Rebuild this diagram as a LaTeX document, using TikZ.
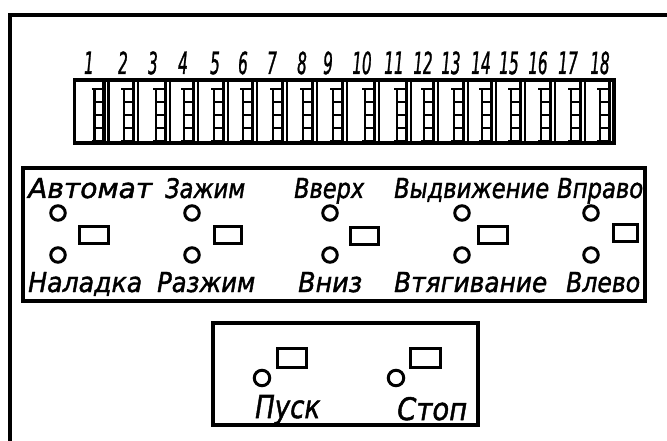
\documentclass[tikz,border=0pt]{standalone}
\usepackage{fontspec}
\setmainfont{DejaVu Sans}
\newfontfamily\gost{DejaVu Sans Oblique}[RawFeature={embolden=1.6}]
\newcommand\lab[3]{\resizebox{#1pt}{#2pt}{\gost #3}}
\newcommand\dig[1]{\scalebox{0.5}[1]{\resizebox{!}{22.5pt}{\gost #1}}}
\begin{document}
\begin{tikzpicture}[x=1pt,y=-1pt,
  lbl/.style={inner sep=0pt, anchor=base west},
  num/.style={inner sep=0pt, anchor=base},
  lamp/.style={circle, draw, line width=3pt, minimum size=14.5pt, inner sep=0pt},
  biglamp/.style={lamp, minimum size=15.5pt},
  btn/.style={rectangle, draw, line width=3pt, inner sep=0pt},
  panel/.style={draw, line width=3.4pt},
  frame/.style={draw, line width=4pt},
  divline/.style={line width=2.2pt},
  rung/.style={line width=2.2pt},
  rail/.style={line width=3.4pt}]
\useasboundingbox (0,0) rectangle (667,441);
\clip (0,0) rectangle (667,441);
\fill[white] (0,0) rectangle (667,441);
% outer frame
\coordinate (fb) at (9.5,460);
\coordinate (fc) at (9.5,15);
\coordinate (fr) at (690,15);
\draw[frame] (fb) -- (fc) -- (fr);
% terminal block
\draw[panel] (74.5,80) rectangle (614,143);
\foreach \L/\R/\xn [count=\i] in {74.5/108.5/89,108.5/138/123,138/170/153,170/198/183,198/228/215,228/257/243,257/287/272,287/317/302,317/347/328,347/379/362,379/411/394,411/438/423,438/468/451,468/496/481,496/525/509,525/555/538,555/585/568,585/614/600}{
  \ifnum\i>1 \draw[divline] (\L,80) -- (\L,143); \fi
  \pgfmathsetmacro\xr{\R-4.5}
  \pgfmathsetmacro\xl{\R-14}
  \pgfmathsetmacro\xt{\R-17}
  \draw[rail] (\xr,80) -- (\xr,143);
  \draw[rung] (\xl,89) -- (\xl,141);
  \draw[rung] (\xt,89) -- (\xr,89);
  \draw[rung] (\xt,141) -- (\xr,141);
  \foreach \y in {102,115,128}{\draw[rung] (\xl,\y) -- (\xr,\y);}
  \node[num] (n\i) at (\xn,74) {\dig{\i}};
}
% middle panel
\draw[panel] (23,168) rectangle (645,301);
\node[lbl] (t1) at (28,198) {\lab{124}{20}{Автомат}};
\node[lbl] (t2) at (165,198) {\lab{80}{20}{Зажим}};
\node[lbl] (t3) at (294,198) {\lab{70}{20}{Вверх}};
\node[lbl] (t4) at (394,198) {\lab{155}{20}{Выдвижение}};
\node[lbl] (t5) at (557,198) {\lab{86}{20}{Вправо}};
\node[lbl] (b1) at (28,292) {\lab{114}{20}{Наладка}};
\node[lbl] (b2) at (157,292) {\lab{98}{20}{Разжим}};
\node[lbl] (b3) at (298,292) {\lab{64}{20}{Вниз}};
\node[lbl] (b4) at (394,292) {\lab{153}{20}{Втягивание}};
\node[lbl] (b5) at (566,292) {\lab{74}{20}{Влево}};
\foreach \x [count=\i] in {58,192,330,462,591}{
  \node[lamp] (u\i) at (\x,213) {};
  \node[lamp] (d\i) at (\x,255) {};
}
\node[btn, minimum width=29pt, minimum height=17pt] (r1) at (94,235) {};
\node[btn, minimum width=27pt, minimum height=17pt] (r2) at (228,235) {};
\node[btn, minimum width=28pt, minimum height=17pt] (r3) at (364,236) {};
\node[btn, minimum width=29pt, minimum height=17pt] (r4) at (493,235) {};
\node[btn, minimum width=24pt, minimum height=17pt] (r5) at (625.5,233) {};
% bottom panel
\draw[panel] (213,323) rectangle (478,425);
\node[biglamp] (c1) at (262,378) {};
\node[biglamp] (c2) at (396,378) {};
\node[btn, minimum width=29.5pt, minimum height=19.5pt] (s1) at (292,358) {};
\node[btn, minimum width=29.5pt, minimum height=19.5pt] (s2) at (425.5,358) {};
\node[lbl] (p1) at (255,418) {\lab{65}{23}{Пуск}};
\node[lbl] (p2) at (397,420) {\lab{70}{23}{Стоп}};
\end{tikzpicture}
\end{document}
